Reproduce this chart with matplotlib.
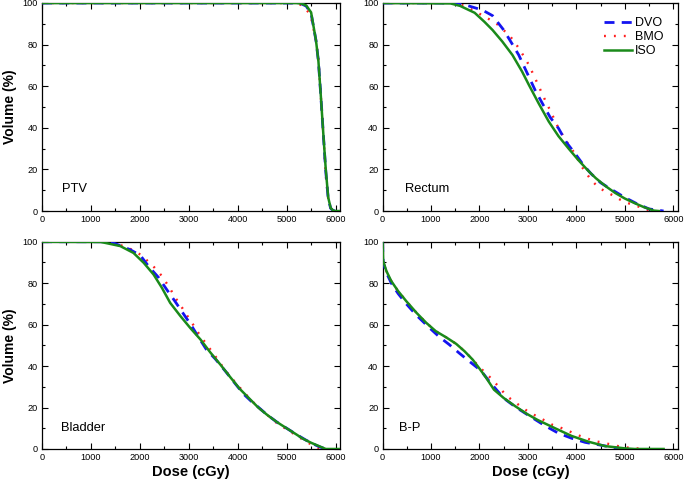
import matplotlib
matplotlib.use("Agg")
import matplotlib.pyplot as plt
from matplotlib.ticker import MultipleLocator

plt.rcParams['font.family'] = ['Liberation Sans', 'DejaVu Sans']

# ---------------- data ----------------
# PTV
ptv_dose_iso = [0, 5000, 5200, 5300, 5400, 5500, 5600, 5650, 5700, 5750, 5800, 5850, 5900, 5950, 6000, 6100]
ptv_iso = [100, 100, 100, 99.7, 98.8, 95.5, 82, 72, 55, 37, 20, 6.5, 1.5, 0.2, 0, 0]
ptv_dose_dvo = [0, 5000, 5200, 5300, 5400, 5500, 5600, 5650, 5700, 5750, 5800, 5850, 5900, 5950, 6000]
ptv_dvo = [100, 100, 100, 99.6, 98.5, 95, 82, 72, 55, 37, 19, 6, 1.3, 0.2, 0]
ptv_dose_bmo = [0, 5000, 5200, 5300, 5350, 5450, 5500, 5600, 5650, 5700, 5750, 5800, 5850, 5900, 5950, 6000]
ptv_bmo = [100, 100, 100, 99, 98, 95.5, 93, 82, 73, 55, 37, 17, 6, 1, 0.2, 0]

# Rectum
rec_dose_iso = [0, 1400, 1600, 1900, 2100, 2270, 2470, 2680, 2880, 3020, 3220, 3430, 3630, 3840,
                4040, 4250, 4400, 4600, 4800, 5000, 5200, 5400, 5600, 5700]
rec_iso = [100, 99.8, 98.6, 95.3, 91, 87, 81.5, 75, 67, 60.6, 51.8, 43, 36, 30,
           24.5, 19.2, 15.8, 12, 8.7, 6, 3.8, 1.8, 0.2, 0]
rec_dose_dvo = [0, 1550, 1720, 2060, 2270, 2500, 2680, 2810, 2950, 3150, 3320, 3460, 3630, 3800,
                3970, 4140, 4300, 4500, 4750, 5000, 5250, 5500, 5800]
rec_dvo = [100, 100, 99, 96.6, 93.9, 87, 80.1, 75, 68, 58, 50.8, 45, 39.8, 32.8,
           27.7, 22.3, 18, 13.6, 10, 6.5, 3.5, 1, 0]
rec_dose_bmo = [0, 1500, 1700, 1925, 2230, 2370, 2630, 2830, 3020, 3170, 3320, 3480, 3630, 3800,
                3970, 4100, 4300, 4450, 4600, 4800, 4900, 5100, 5300, 5400, 5500]
rec_bmo = [100, 100, 98.5, 95.8, 91.8, 89.7, 84.1, 77.7, 70.2, 62.7, 55, 47.3, 39.8, 33.3,
           27.5, 21.7, 15, 11.5, 9.3, 7, 5.5, 3.5, 2, 1, 0.3]

# Bladder
bla_dose_iso = [0, 1200, 1600, 1870, 2080, 2280, 2450, 2620, 2830, 3030, 3240, 3440, 3650, 3850,
                4050, 4260, 4420, 4600, 4800, 5000, 5200, 5330, 5500, 5700, 5800, 6100]
bla_iso = [100, 99.9, 97.9, 94.6, 89.8, 84.2, 77.8, 70.5, 64.1, 58.4, 52.8, 46.6, 40.6, 34.6,
           28.8, 23.8, 20, 16.5, 13, 10, 7, 5, 3, 1, 0, 0]
bla_dose_dvo = [0, 1300, 1460, 1800, 2010, 2180, 2380, 2550, 2720, 2880, 3050, 3200, 3360, 3540,
                3750, 3950, 4120, 4300, 4420, 4600, 4800, 5000, 5200, 5400, 5600, 5700, 5800]
bla_dvo = [100, 100, 99.4, 96.2, 93.4, 88.1, 82.8, 76.9, 71.2, 65.6, 59.7, 53.9, 48, 43.5,
           37.5, 31.5, 26.5, 22.5, 20.2, 16.5, 13, 10, 7, 4.2, 1.8, 0.8, 0]
bla_dose_bmo = [0, 1400, 1770, 2040, 2180, 2300, 2420, 2520, 2620, 2700, 2810, 2920, 3020, 3120,
                3220, 3320, 3420, 3520, 3630, 3730, 3850, 3990, 4200, 4400, 4600, 4800, 5000,
                5200, 5400, 5600, 5700]
bla_bmo = [100, 100, 97, 93.4, 90.2, 87.5, 84.3, 80.9, 77.4, 73.8, 70.1, 66.1, 62.4, 58.9,
           55.1, 51.9, 48.7, 45.5, 41.9, 38.3, 35, 31, 25.5, 20.5, 16.5, 12.5, 9.5,
           6.5, 3.5, 1, 0]

# B-P
bp_dose_iso = [0, 12, 80, 180, 320, 490, 700, 900, 1100, 1310, 1520, 1690, 1860, 1990, 2130,
               2300, 2500, 2740, 2980, 3200, 3560, 3900, 4250, 4590, 5000, 5200, 5800]
bp_iso = [100, 90.7, 85.8, 81, 76.2, 71.3, 65.7, 60.9, 56.8, 53.9, 50.7, 47.2, 43.1, 39.1, 34.6,
          28.6, 24.6, 20.6, 16.9, 14, 10, 6.3, 3.5, 1.4, 0.3, 0, 0]
bp_dose_dvo = [0, 12, 80, 180, 320, 490, 700, 970, 1170, 1380, 1580, 1790, 2030, 2200,
               2500, 2740, 2980, 3360, 3630, 3900, 4180, 4490, 4790, 5000]
bp_dvo = [100, 90, 85, 80, 75, 70, 64.5, 58.4, 54.1, 50.3, 46.3, 42.3, 37.8, 32.7,
          24.5, 20.3, 16.7, 11.1, 7.6, 5.2, 3.2, 1.9, 0.6, 0]
bp_dose_bmo = [0, 12, 80, 180, 320, 490, 700, 900, 1100, 1310, 1520, 1690, 1860, 2000, 2200,
               2340, 2460, 2570, 2710, 2870, 3020, 3350, 3510, 3670, 3840, 4010, 4180, 4350,
               4520, 4690, 4860, 5010, 5240, 5400]
bp_bmo = [100, 90.7, 85.8, 81, 76.2, 71.3, 65.7, 60.9, 56.8, 53.9, 50.7, 47.2, 43.1, 39.5, 35,
          31.5, 28.3, 25.4, 23, 20.2, 17.8, 13.7, 11.6, 10.3, 8.7, 6.8, 5.5, 3.9,
          3.2, 2.3, 1.4, 0.8, 0.3, 0]

series_names = ["DVO", "BMO", "ISO"]
panel_labels = ["PTV", "Rectum", "Bladder", "B-P"]

panels = [
    (ptv_dose_dvo, ptv_dvo, ptv_dose_bmo, ptv_bmo, ptv_dose_iso, ptv_iso),
    (rec_dose_dvo, rec_dvo, rec_dose_bmo, rec_bmo, rec_dose_iso, rec_iso),
    (bla_dose_dvo, bla_dvo, bla_dose_bmo, bla_bmo, bla_dose_iso, bla_iso),
    (bp_dose_dvo, bp_dvo, bp_dose_bmo, bp_bmo, bp_dose_iso, bp_iso),
]

blue = '#1414f0'
red = '#ff2020'
green = '#1a8a1a'

fig = plt.figure(figsize=(6.85, 4.82), dpi=100)
positions = [
    [0.0613, 0.5622, 0.4357, 0.4316],
    [0.5585, 0.5622, 0.4315, 0.4316],
    [0.0613, 0.0685, 0.4357, 0.4300],
    [0.5585, 0.0685, 0.4315, 0.4300],
]
label_pos = [(0.067, 0.09), (0.075, 0.09), (0.064, 0.087), (0.055, 0.087)]

for i, (pos, data, lab) in enumerate(zip(positions, panels, panel_labels)):
    ax = fig.add_axes(pos)
    dx1, y1, dx2, y2, dx3, y3 = data
    ax.plot(dx1, y1, color=blue, lw=2.0, linestyle=(0, (3.6, 2.6)), label=series_names[0], zorder=3)
    ax.plot(dx2, y2, color=red, lw=1.7, linestyle=(0, (0.8, 3.4)), label=series_names[1], zorder=2)
    ax.plot(dx3, y3, color=green, lw=1.8, linestyle='-', label=series_names[2], zorder=4)
    ax.set_xlim(0, 6100)
    ax.set_ylim(0, 100)
    ax.xaxis.set_major_locator(MultipleLocator(1000))
    ax.xaxis.set_minor_locator(MultipleLocator(500))
    ax.yaxis.set_major_locator(MultipleLocator(20))
    ax.yaxis.set_minor_locator(MultipleLocator(10))
    ax.tick_params(which='both', direction='in', top=True, right=True, labelsize=6.6, width=0.8, pad=3)
    ax.tick_params(which='major', length=4)
    ax.tick_params(which='minor', length=2)
    for s in ax.spines.values():
        s.set_linewidth(0.9)
    lx, ly = label_pos[i]
    ax.text(lx, ly, lab, transform=ax.transAxes, fontsize=9.3, ha='left', va='baseline')
    if i in (0, 2):
        ax.set_ylabel("Volume (%)", fontsize=10, fontweight='bold', labelpad=4)
    if i in (2, 3):
        ax.set_xlabel("Dose (cGy)", fontsize=10.5, fontweight='bold', labelpad=2)
    if i == 1:
        ax.legend(loc='upper right', frameon=False, fontsize=9, handlelength=2.2,
                  handletextpad=0.3, labelspacing=0.15, borderaxespad=0.75)

fig.savefig("out.png", dpi=100)
